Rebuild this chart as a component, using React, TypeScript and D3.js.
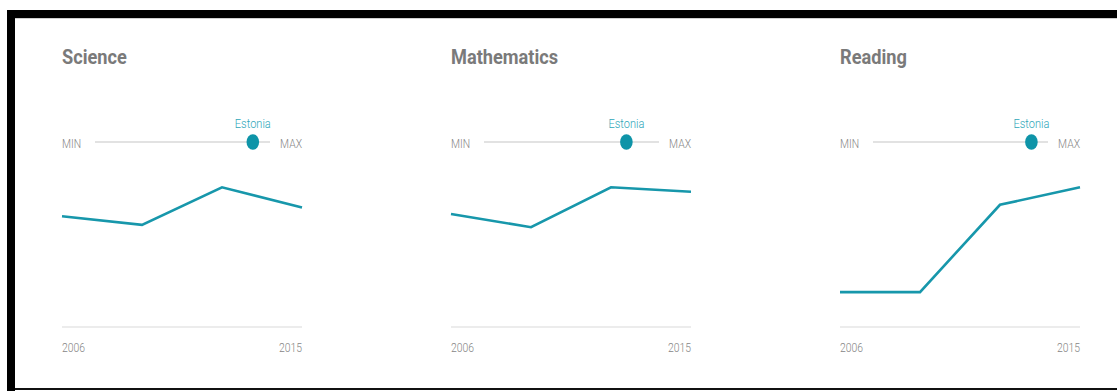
import React from "react";
import * as d3 from "d3";

// ---- data ----
const subjects = ["Science", "Mathematics", "Reading"];
const years = [2006, 2009, 2012, 2015];
const scienceScores = [531, 528, 541, 534];
const mathScores = [515, 512, 521, 520];
const readingScores = [501, 501, 516, 519];
const seriesBySubject = [scienceScores, mathScores, readingScores];
// lower bound of each subject's y domain (upper bound is the series max)
const yLowBySubject = [492.7, 489.5, 495];
// slider: min / max of all countries in 2015, and Estonia's value
const sliderMin = [332, 328, 347];
const sliderMax = [556, 564, 537];
const country = "Estonia";
const tickLabels = ["2006", "2015"];

const W = 1117;
const H = 391;
const PANEL_W = 240;
const TEAL = "#1797ab";
const TEAL_TEXT = "#2ea6b9";
const GREY = "#858585";

function SqText(props: {
  x: number;
  y: number;
  sx: number;
  anchor?: string;
  size: number;
  weight?: number | string;
  fill: string;
  children: React.ReactNode;
}) {
  const { x, y, sx, anchor = "start", size, weight = 300, fill, children } = props;
  return (
    <text
      transform={`translate(${x},${y}) scale(${sx},1)`}
      textAnchor={anchor}
      fontFamily="Roboto, 'Noto Sans', sans-serif"
      fontSize={size}
      fontWeight={weight}
      fill={fill}
    >
      {children}
    </text>
  );
}

export default function App() {
  const panelX = d3.scalePoint<string>().domain(subjects).range([62, 840]);
  const x = d3.scaleLinear().domain([years[0], years[years.length - 1]]).range([0, PANEL_W]);
  const sliderY = 142;
  const baseY = 327;

  return (
    <svg
      width={W}
      height={H}
      style={{ position: "absolute", left: 0, top: 0, background: "#fff" }}
    >
      {/* frame */}
      <rect x={7} y={10} width={W - 7} height={8} fill="#000" />
      <rect x={15} y={18} width={W - 15} height={1} fill="#cfcfcf" />
      <rect x={7} y={10} width={8} height={H - 10} fill="#000" />
      <rect x={15} y={388} width={W - 15} height={2} fill="#111" />

      {subjects.map((s, i) => {
        const px = panelX(s) as number;
        const values = seriesBySubject[i];
        const y = d3
          .scaleLinear()
          .domain([yLowBySubject[i], d3.max(values) as number])
          .range([baseY, 187.3]);
        const line = d3
          .line<number>()
          .x((_, j) => x(years[j]))
          .y((v) => y(v));
        const slider = d3
          .scaleLinear()
          .domain([sliderMin[i], sliderMax[i]])
          .range([33, 208]);
        const dotX = slider(values[values.length - 1]);
        return (
          <g key={s} transform={`translate(${px},0)`}>
            <SqText x={0} y={64} sx={0.91} size={20} weight={700} fill="#7a7a7a">
              {s}
            </SqText>

            {/* slider */}
            <SqText x={0} y={147.5} sx={0.8} size={13} fill={GREY}>
              MIN
            </SqText>
            <SqText x={PANEL_W} y={147.5} sx={0.8} anchor="end" size={13} fill={GREY}>
              MAX
            </SqText>
            <line
              x1={slider.range()[0]}
              x2={slider.range()[1]}
              y1={sliderY}
              y2={sliderY}
              stroke="#e2e2e2"
              strokeWidth={2}
            />
            <ellipse cx={dotX} cy={sliderY} rx={6.3} ry={7.8} fill="#0e94a8" />
            <SqText x={dotX} y={127.5} sx={0.92} anchor="middle" size={12} fill={TEAL_TEXT}>
              {country}
            </SqText>

            {/* baseline + ticks */}
            <line x1={0} x2={PANEL_W} y1={baseY} y2={baseY} stroke="#e6e6e6" strokeWidth={1.5} />
            <SqText x={0} y={351.5} sx={0.8} size={13} fill={GREY}>
              {tickLabels[0]}
            </SqText>
            <SqText x={PANEL_W} y={351.5} sx={0.8} anchor="end" size={13} fill={GREY}>
              {tickLabels[1]}
            </SqText>

            <path
              d={line(values) || ""}
              fill="none"
              stroke={TEAL}
              strokeWidth={2.6}
              strokeLinejoin="miter"
            />
          </g>
        );
      })}
    </svg>
  );
}
